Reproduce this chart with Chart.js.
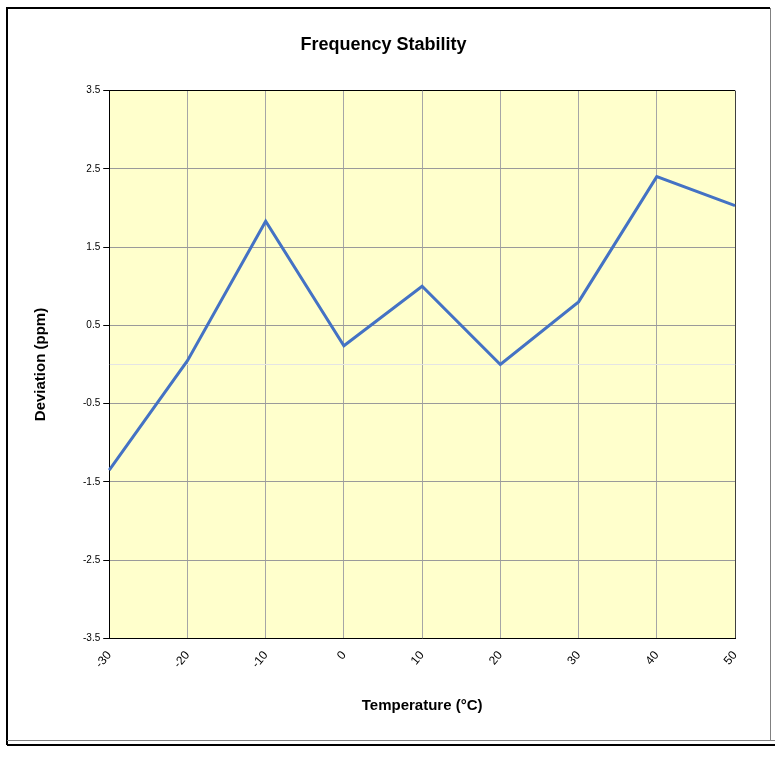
<!DOCTYPE html>
<html>
<head>
<meta charset="utf-8">
<script src="https://cdn.jsdelivr.net/npm/chart.js@4/dist/chart.umd.min.js"></script>
<style>
  body { margin: 0; background: #fff; }
  #wrap { width: 775px; height: 772px; position: relative; }
</style>
</head>
<body>
<div id="wrap"><canvas id="chartFreq"></canvas></div>
<script>
// data
var temperatures = ['-30', '-20', '-10', '0', '10', '20', '30', '40', '50'];
var deviation = [-1.35, 0.05, 1.83, 0.24, 1.0, 0.0, 0.8, 2.4, 2.03];
var yTickValues = [-3.5, -2.5, -1.5, -0.5, 0.5, 1.5, 2.5, 3.5];
var yMin = -3.5, yMax = 3.5;

// plot area fill + outer frame
var framePlugin = {
    id: 'framePlugin',
    beforeDraw: function(chart) {
        var c = chart.ctx, a = chart.chartArea;
        c.save();
        c.fillStyle = '#fff';
        c.fillRect(0, 0, chart.width, chart.height);
        c.fillStyle = '#FFFFCC';
        c.fillRect(a.left, a.top, a.right - a.left, a.bottom - a.top);
        c.restore();
    },
    afterDraw: function(chart) {
        var c = chart.ctx;
        c.save();
        c.strokeStyle = '#000';
        c.lineWidth = 2;
        c.beginPath();
        c.moveTo(7, 745); c.lineTo(7, 8); c.lineTo(770, 8);
        c.stroke();
        c.strokeStyle = '#808080';
        c.lineWidth = 1;
        c.beginPath();
        c.moveTo(770.5, 8); c.lineTo(770.5, 740);
        c.moveTo(7, 740.5); c.lineTo(775, 740.5);
        c.stroke();
        c.strokeStyle = '#000';
        c.lineWidth = 2;
        c.beginPath();
        c.moveTo(7, 745); c.lineTo(775, 745);
        c.stroke();
        c.restore();
    }
};

var ctxFreq = document.getElementById('chartFreq');
var chartFreq = new Chart(ctxFreq, {
    type: 'line',
    data: {
        labels: temperatures,
        datasets: [
            {
                label: 'Deviation',
                data: deviation,
                borderColor: '#4472C4',
                borderWidth: 3,
                pointRadius: 0,
                tension: 0,
                fill: false
            }
        ]
    },
    plugins: [framePlugin],
    options: {
        responsive: true,
        maintainAspectRatio: false,
        animation: false,
        layout: {
            padding: { left: 32, right: 40, top: 0, bottom: 57 }
        },
        plugins: {
            legend: { display: false },
            tooltip: { enabled: false },
            title: {
                display: true,
                text: 'Frequency Stability',
                color: '#000',
                font: { family: 'Liberation Sans, Arial, sans-serif', size: 18, weight: 'bold' },
                padding: { top: 34, bottom: 35 }
            }
        },
        scales: {
            x: {
                type: 'category',
                offset: false,
                border: { color: '#000', width: 1 },
                grid: {
                    drawTicks: false,
                    color: function(ctx) {
                        return ctx.index === temperatures.length - 1 ? '#404040' : '#a6a6a6';
                    }
                },
                ticks: {
                    color: '#000',
                    minRotation: 50,
                    maxRotation: 50,
                    padding: 10,
                    font: { family: 'Liberation Sans, Arial, sans-serif', size: 12 }
                },
                title: {
                    display: true,
                    text: 'Temperature (°C)',
                    color: '#000',
                    font: { family: 'Liberation Sans, Arial, sans-serif', size: 15, weight: 'bold' },
                    padding: { top: 16, bottom: 0 }
                }
            },
            y: {
                type: 'linear',
                min: yMin,
                max: yMax,
                afterBuildTicks: function(axis) {
                    axis.ticks = yTickValues.concat([0]).sort(function(a, b) { return a - b; })
                        .map(function(v) { return { value: v }; });
                },
                border: { color: '#000', width: 1 },
                grid: {
                    tickLength: 6,
                    color: function(ctx) {
                        if (!ctx.tick) return '#999';
                        if (ctx.tick.value === yMax) return '#000';
                        if (ctx.tick.value === 0) return '#e4e4e4';
                        return '#9a9a9a';
                    },
                    tickColor: function(ctx) {
                        return ctx.tick && ctx.tick.value === 0 ? 'rgba(0,0,0,0)' : '#000';
                    }
                },
                ticks: {
                    color: '#000',
                    padding: 3,
                    font: { family: 'Liberation Sans, Arial, sans-serif', size: 10 },
                    callback: function(v) { return v === 0 ? '' : v.toFixed(1); }
                },
                title: {
                    display: true,
                    text: 'Deviation (ppm)',
                    color: '#000',
                    font: { family: 'Liberation Sans, Arial, sans-serif', size: 15, weight: 'bold' },
                    padding: { top: 0, bottom: 30 }
                }
            }
        }
    }
});
</script>
</body>
</html>
